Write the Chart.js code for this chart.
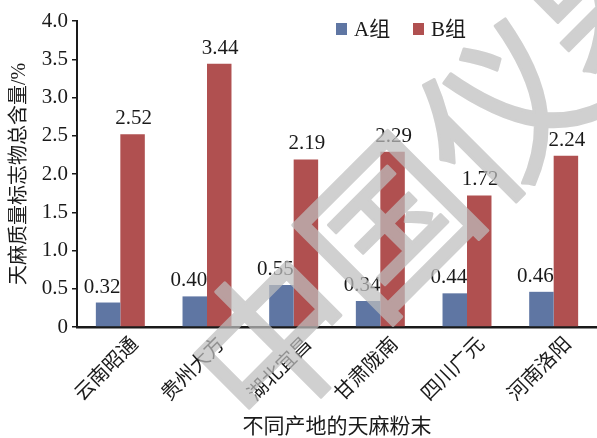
<!DOCTYPE html>
<html>
<head>
<meta charset="utf-8">
<script src="https://cdn.jsdelivr.net/npm/chart.js@4.4.0/dist/chart.umd.min.js"></script>
<style>
  html, body { margin: 0; padding: 0; background: #fff; }
  #wrap { width: 597px; height: 438px; }
</style>
</head>
<body>
<div id="wrap"><canvas id="chart"></canvas></div>
<script>
  const origins = ['云南昭通', '贵州大方', '湖北宜昌', '甘肃陇南', '四川广元', '河南洛阳'];
  const groupA = [0.32, 0.40, 0.55, 0.34, 0.44, 0.46];
  const groupB = [2.52, 3.44, 2.19, 2.29, 1.72, 2.24];
  const yTickLabels = ['0', '0.5', '1.0', '1.5', '2.0', '2.5', '3.0', '3.5', '4.0'];
  const seriesNames = ['A组', 'B组'];
  const seriesColors = ['#5f76a3', '#b05050'];
  const stampText = '中国仪器';

  const SERIF = "'Liberation Serif', 'Times New Roman', 'DejaVu Serif', 'Noto Sans CJK SC', serif";

  // value labels above each bar
  const valueLabels = {
    id: 'valueLabels',
    afterDatasetsDraw(chart) {
      const ctx = chart.ctx;
      ctx.save();
      ctx.font = '21px ' + SERIF;
      ctx.fillStyle = '#1a1a1a';
      ctx.textAlign = 'center';
      ctx.textBaseline = 'alphabetic';
      chart.data.datasets.forEach((ds, di) => {
        chart.getDatasetMeta(di).data.forEach((bar, i) => {
          const shift = di === 0 ? -6 : 1;
          ctx.fillText(ds.data[i].toFixed(2), bar.x + shift, bar.y - 10);
        });
      });
      ctx.restore();
    }
  };

  // legend drawn inside the plot, top right
  const groupLegend = {
    id: 'groupLegend',
    afterDraw(chart) {
      const ctx = chart.ctx;
      const area = chart.chartArea;
      ctx.save();
      ctx.font = '21px ' + SERIF;
      ctx.textBaseline = 'alphabetic';
      ctx.textAlign = 'left';
      let x = area.left + 259;
      const y = area.top + 2;
      seriesNames.forEach((name, i) => {
        ctx.fillStyle = seriesColors[i];
        ctx.fillRect(x, y, 11, 12);
        ctx.fillStyle = '#1a1a1a';
        ctx.fillText(name, x + 18, y + 13);
        x += 77;
      });
      ctx.restore();
    }
  };

  // faint diagonal stamp over the whole figure, drawn opaque off-screen
  // and then laid over the chart with a single alpha
  const stamp = {
    id: 'stamp',
    afterDraw(chart) {
      const w = chart.width, h = chart.height;
      const layer = document.createElement('canvas');
      layer.width = w;
      layer.height = h;
      const lc = layer.getContext('2d');
      lc.translate(216, 397);
      lc.rotate(-Math.PI / 4);
      lc.font = "400 162px 'Noto Sans CJK SC', sans-serif";
      lc.fillStyle = '#bebebe';
      lc.strokeStyle = '#bebebe';
      lc.lineWidth = 3;
      lc.lineJoin = 'round';
      lc.textAlign = 'left';
      lc.textBaseline = 'middle';
      lc.fillText(stampText, 0, 0);
      lc.strokeText(stampText, 0, 0);

      const ctx = chart.ctx;
      ctx.save();
      ctx.setTransform(1, 0, 0, 1, 0, 0);
      ctx.globalAlpha = 0.72;
      ctx.drawImage(layer, 0, 0);
      ctx.restore();
    }
  };

  new Chart(document.getElementById('chart'), {
    type: 'bar',
    data: {
      labels: origins,
      datasets: [
        { label: seriesNames[0], data: groupA, backgroundColor: seriesColors[0] },
        { label: seriesNames[1], data: groupB, backgroundColor: seriesColors[1] }
      ]
    },
    options: {
      responsive: true,
      maintainAspectRatio: false,
      animation: false,
      devicePixelRatio: 1,
      categoryPercentage: 0.565,
      barPercentage: 1.0,
      layout: { padding: { top: 21, right: 0, bottom: 0, left: 0 } },
      plugins: {
        legend: { display: false },
        tooltip: { enabled: false }
      },
      scales: {
        x: {
          grid: { display: false, drawTicks: false },
          border: { display: true, color: '#1a1a1a', width: 2.5 },
          ticks: {
            color: '#1a1a1a',
            font: { family: SERIF, size: 20 },
            minRotation: 45,
            maxRotation: 45,
            labelOffset: 15,
            padding: 6
          },
          title: {
            display: true,
            text: '不同产地的天麻粉末',
            color: '#1a1a1a',
            font: { family: SERIF, size: 21, lineHeight: 1 },
            padding: { top: 0, bottom: 0 }
          },
          afterFit(scale) { scale.height = 111; }
        },
        y: {
          min: 0,
          max: 4,
          ticks: {
            stepSize: 0.5,
            color: '#1a1a1a',
            font: { family: SERIF, size: 21 },
            padding: 4,
            callback: (v, i) => yTickLabels[i]
          },
          grid: {
            drawOnChartArea: false,
            drawTicks: true,
            tickLength: 5,
            color: '#1a1a1a',
            lineWidth: 1.5
          },
          border: { display: true, color: '#1a1a1a', width: 2 },
          title: {
            display: true,
            text: '天麻质量标志物总含量/%',
            color: '#1a1a1a',
            font: { family: SERIF, size: 20 },
            padding: { top: 8, bottom: 0 }
          },
          afterFit(scale) { scale.width = 77; }
        }
      }
    },
    plugins: [valueLabels, groupLegend, stamp]
  });
</script>
</body>
</html>
